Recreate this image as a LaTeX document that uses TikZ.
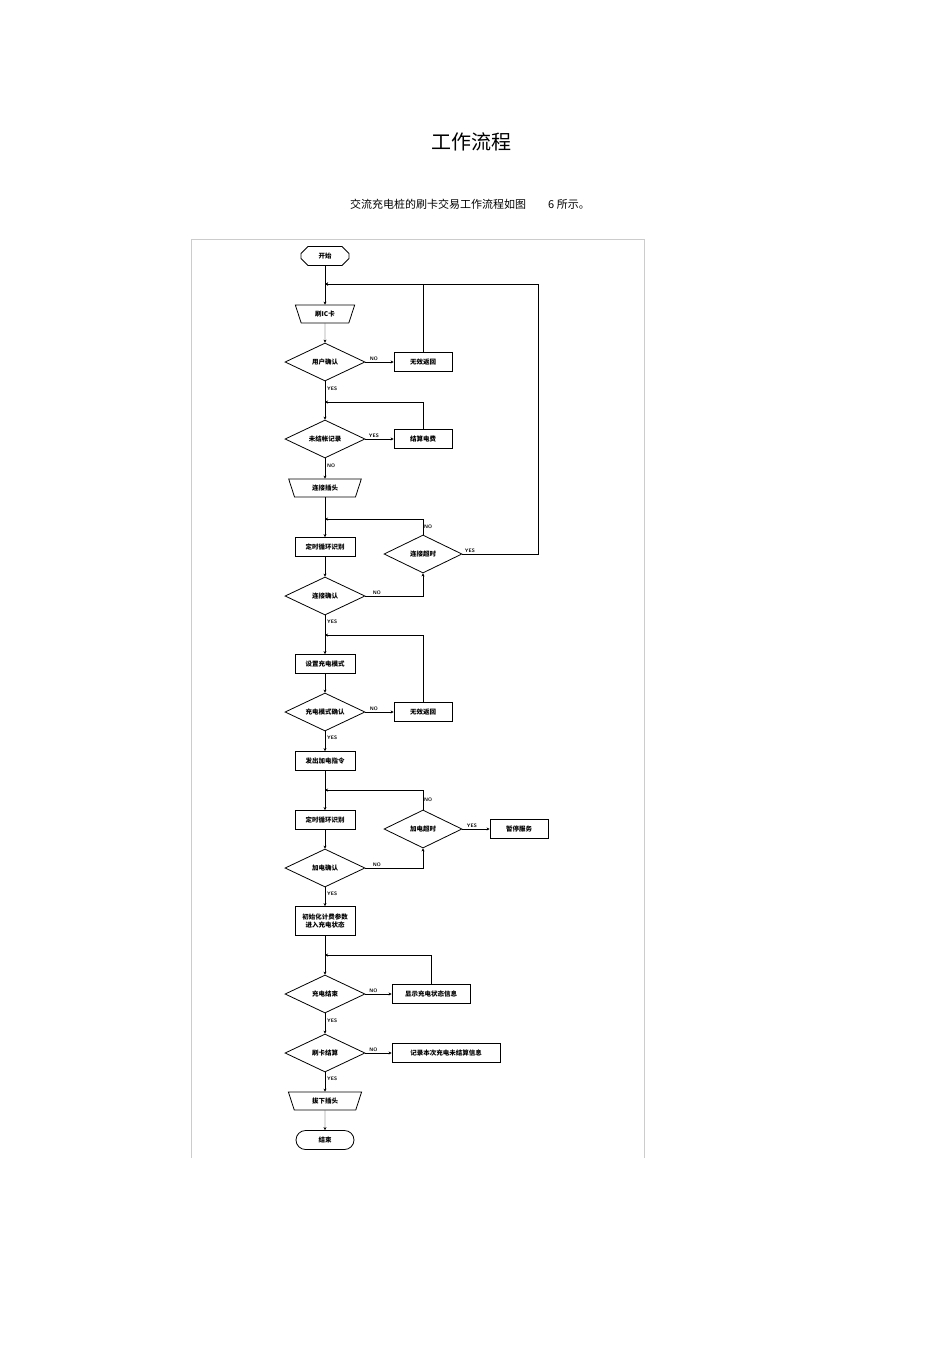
\documentclass[tikz,border=0pt]{standalone}
\usepackage{fontspec}
\newfontfamily\cjk{Noto Sans CJK SC}
\usetikzlibrary{shapes.geometric,shapes.misc,arrows.meta}
\begin{document}
\begin{tikzpicture}[x=1pt,y=-1pt,
  every node/.style={font=\cjk\fontsize{6.5}{7.5}\selectfont\bfseries, inner sep=1pt},
  box/.style={draw, thick, minimum width=58pt, minimum height=19pt},
  dec/.style={draw, thick, diamond, aspect=2.1, minimum width=80pt, minimum height=38pt, inner sep=0pt},
  trap/.style={draw, thick, trapezium, shape border rotate=180, trapezium angle=72, minimum width=40pt, minimum height=18pt},
  lab/.style={font=\sffamily\fontsize{5}{5}\selectfont\bfseries},
  ar/.style={-{Stealth[length=3pt,width=3pt]}, thin},
  ln/.style={thin}]
\useasboundingbox (0,0) rectangle (950,1345);
\node[font=\cjk\fontsize{20}{22}\selectfont] (title) at (471,142) {工作流程};
\node[font=\cjk\fontsize{11}{12}\selectfont] (sub) at (470,204) {交流充电桩的刷卡交易工作流程如图\hspace{2em}6 所示。};
\draw[gray!40] (191,1158) -- (191,239) -- (644,239) -- (644,1158);

\node[draw, thick, chamfered rectangle, chamfered rectangle xsep=6pt, minimum width=48pt, minimum height=19pt] (start) at (325,256) {开始};
\node[trap] (swipe) at (325,314) {刷IC卡};
\node[dec] (d1) at (325,362) {用户确认};
\node[box] (r1) at (423,362) {无效返回};
\node[dec] (d2) at (325,439) {未结帐记录};
\node[box] (r2) at (423,439) {结算电费};
\node[trap] (plug) at (325,488) {连接插头};
\node[box, minimum width=60pt] (loop1) at (325,547) {定时循环识别};
\node[dec, minimum width=78pt] (d3) at (423,554) {连接超时};
\node[dec] (d4) at (325,596) {连接确认};
\node[box, minimum width=60pt] (setm) at (325,664) {设置充电模式};
\node[dec] (d5) at (325,712) {充电模式确认};
\node[box] (r3) at (423,712) {无效返回};
\node[box, minimum width=60pt] (cmd) at (325,761) {发出加电指令};
\node[box, minimum width=60pt] (loop2) at (325,820) {定时循环识别};
\node[dec, minimum width=78pt] (d6) at (423,829) {加电超时};
\node[box] (r4) at (519,829) {暂停服务};
\node[dec] (d7) at (325,868) {加电确认};
\node[box, minimum width=60pt, minimum height=29pt, align=center] (init) at (325,921) {初始化计费参数\\进入充电状态};
\node[dec] (d8) at (325,994) {充电结束};
\node[box, minimum width=78pt] (r5) at (431,994) {显示充电状态信息};
\node[dec] (d9) at (325,1053) {刷卡结算};
\node[box, minimum width=108pt] (r6) at (446,1053) {记录本次充电未结算信息};
\node[trap] (unplug) at (325,1101) {拔下插头};
\node[draw, thick, rounded rectangle, minimum width=60pt, minimum height=19pt] (fin) at (325,1140) {结束};

\coordinate (m1) at (325,284);
\coordinate (m2) at (325,402);
\coordinate (m3) at (325,519);
\coordinate (m4) at (325,635);
\coordinate (m5) at (325,790);
\coordinate (m6) at (325,955);

% main column
\draw[ln] (start) -- (m1); \draw[ar] (m1) -- (swipe);
\draw[ar] (swipe) -- (d1);
\draw[ln] (d1) -- (m2); \draw[ar] (m2) -- (d2);
\draw[ar] (d2) -- (plug);
\draw[ln] (plug) -- (m3); \draw[ar] (m3) -- (loop1);
\draw[ar] (loop1) -- (d4);
\draw[ln] (d4) -- (m4); \draw[ar] (m4) -- (setm);
\draw[ar] (setm) -- (d5);
\draw[ar] (d5) -- (cmd);
\draw[ln] (cmd) -- (m5); \draw[ar] (m5) -- (loop2);
\draw[ar] (loop2) -- (d7);
\draw[ar] (d7) -- (init);
\draw[ln] (init) -- (m6); \draw[ar] (m6) -- (d8);
\draw[ar] (d8) -- (d9);
\draw[ar] (d9) -- (unplug);
\draw[ar] (unplug) -- (fin);

% side branches
\draw[ar] (d1) -- node[lab, above, pos=0.3] {NO} (r1);
\draw[ar] (r1) -- (423,284) -- (m1);
\draw[ar] (d2) -- node[lab, above, pos=0.3] {YES} (r2);
\draw[ar] (r2) -- (423,402) -- (m2);
\draw[ar] (d3.east) -- node[lab, above, pos=0.1] {YES} (538,554) -- (538,284) -- (m1);
\draw[ar] (d4.east) -- node[lab, above, pos=0.2] {NO} (423,596) -- (d3.south);
\draw[ar] (d3.north) -- node[lab, right, pos=0.5] {NO} (423,519) -- (m3);
\draw[ar] (d5) -- node[lab, above, pos=0.3] {NO} (r3);
\draw[ar] (r3) -- (423,635) -- (m4);
\draw[ar] (d7.east) -- node[lab, above, pos=0.2] {NO} (423,868) -- (d6.south);
\draw[ar] (d6.north) -- node[lab, right, pos=0.5] {NO} (423,790) -- (m5);
\draw[ar] (d6) -- node[lab, above, pos=0.35] {YES} (r4);
\draw[ar] (d8) -- node[lab, above, pos=0.3] {NO} (r5);
\draw[ar] (r5.north -| 431,0) -- (431,955) -- (m6);
\draw[ar] (d9) -- node[lab, above, pos=0.3] {NO} (r6);

% YES/NO labels below
\node[lab, right] (y1) at (326,389) {YES};
\node[lab, right] (n2) at (326,466) {NO};
\node[lab, right] (y4) at (326,622) {YES};
\node[lab, right] (y5) at (326,738) {YES};
\node[lab, right] (y7) at (326,894) {YES};
\node[lab, right] (y8) at (326,1021) {YES};
\node[lab, right] (y9) at (326,1079) {YES};
\end{tikzpicture}
\end{document}
